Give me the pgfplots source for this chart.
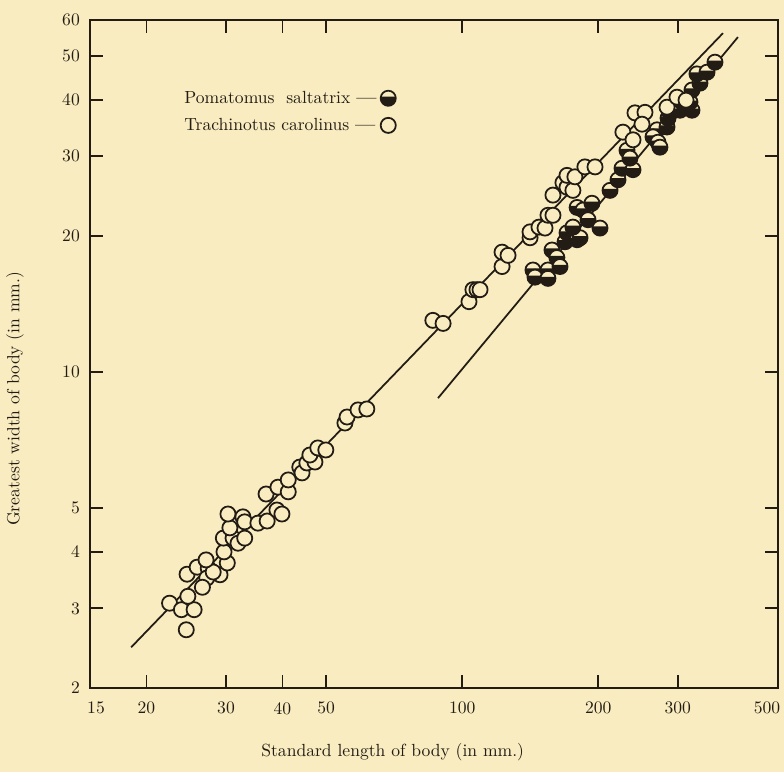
\documentclass[border=0pt]{standalone}
\usepackage{pgfplots}
\usepackage{pgfplotstable}
\pgfplotsset{compat=1.18}
\definecolor{paper}{HTML}{F8ECC0}
\definecolor{ink}{HTML}{221C14}

% circle, lower part filled black
\pgfdeclareplotmark{halfdisc}{%
  \pgfpathcircle{\pgfpointorigin}{\pgfplotmarksize}%
  \pgfusepathqfillstroke
  \begin{pgfscope}
    \pgfpathmoveto{\pgfpointpolar{168}{\pgfplotmarksize}}%
    \pgfpatharc{168}{372}{\pgfplotmarksize}%
    \pgfpathclose
    \pgfsetfillcolor{ink}%
    \pgfusepathqfill
  \end{pgfscope}
}

% Trachinotus carolinus
\pgfplotstableread{
len width
22.5 3.08
23.9 2.98
25.5 2.98
24.5 2.69
24.7 3.19
24.6 3.57
25.9 3.70
27.4 3.68
27.2 3.50
26.6 3.34
29.1 3.56
28.1 3.61
27.1 3.84
30.2 3.78
29.7 4.00
29.6 4.29
31.1 4.29
31.9 4.18
33.0 4.29
30.6 4.52
30.3 4.85
32.7 4.78
33.0 4.66
35.3 4.63
37.0 4.68
38.9 4.95
39.9 4.85
36.8 5.37
39.1 5.56
41.2 5.43
41.2 5.77
43.7 6.16
44.2 5.98
45.3 6.29
47.2 6.32
46.0 6.55
47.9 6.79
49.9 6.72
55.0 7.71
55.6 7.95
58.8 8.24
61.5 8.28
86.1 13.0
90.7 12.8
103.5 14.3
105.6 15.2
107.8 15.2
109.5 15.2
122.5 17.1
122.5 18.4
126.3 18.1
141.3 19.8
141.3 20.4
147.9 20.9
152.5 20.8
154.8 22.2
158.8 22.2
158.8 24.6
167.1 26.2
170.6 25.6
175.8 25.2
170.6 27.2
177.6 27.0
186.9 28.4
196.8 28.4
226.8 33.9
238.8 32.6
241.2 37.4
253.8 37.5
250.0 35.3
284.0 38.5
298.8 40.5
312.9 39.9
}\trachinotus

% Pomatomus saltatrix
\pgfplotstableread{
len width
143.4 16.8
154.8 16.8
144.9 16.2
154.8 16.1
158.0 18.6
162.0 17.9
164.6 17.1
168.9 19.4
170.6 20.3
179.6 19.6
182.3 19.8
175.8 20.9
179.6 23.1
185.1 22.8
189.9 21.7
193.7 23.6
201.8 20.8
212.4 25.2
221.2 26.6
225.8 28.2
238.8 28.0
231.6 30.9
235.1 29.7
269.9 34.3
264.4 33.1
271.2 32.2
273.9 31.4
284.0 34.8
285.5 36.4
288.3 37.4
303.5 37.9
322.5 37.9
306.5 39.5
319.2 39.5
322.5 42.0
335.9 43.5
330.8 45.6
348.2 46.0
362.6 48.4
}\pomatomus

\begin{document}
\begin{tikzpicture}
\fill[paper] (-1.8,-1.68) rectangle (13.88,13.76);
\begin{axis}[
    at={(0,0)}, anchor=south west,
    scale only axis,
    width=13.76cm, height=13.36cm,
    xmode=log, ymode=log,
    xmin=15, xmax=500, ymin=2, ymax=60,
    xtick={15,20,30,40,50,100,200,300,500},
    xticklabels={\rule{0.24cm}{0pt}15,20,30,40,50,100,200,300,\raisebox{1.5pt}{500}\rule{0.44cm}{0pt}},
    ytick={2,3,4,5,10,20,30,40,50,60},
    yticklabels={2,3,4,5,10,20,30,40,50,60},
    minor xtick={}, minor ytick={},
    tick pos=both, ticklabel pos=left,
    tick align=inside,
    major tick length=0.26cm,
    every tick/.style={ink, line width=1pt},
    axis line style={ink, line width=1.1pt},
    tick label style={text=ink},
    xticklabel style={yshift=-0.16cm},
    yticklabel style={xshift=-0.08cm},
    xlabel={Standard length of body (in mm.)},
    ylabel={Greatest width of body (in mm.)},
    xlabel style={at={(axis description cs:0.44,-0.096)}, anchor=center, text=ink},
    ylabel style={at={(axis description cs:-0.109,0.433)}, anchor=center, text=ink},
    legend style={at={(axis description cs:0.124,0.905)}, anchor=north west,
        draw=none, fill=none, text=ink, row sep=3pt},
    legend cell align=left,
    legend plot pos=right,
    mark size=4.3pt,
]
\addplot[ink, line width=1pt, forget plot] coordinates {(18.5,2.46) (377.7,56.1)};
\addplot[ink, line width=1pt, forget plot] coordinates {(88.4,8.75) (407.7,55.0)};

\addplot[only marks, mark=halfdisc, mark options={fill=paper, draw=ink, line width=1pt}]
    table[x=len, y=width] {\pomatomus};
\addplot[only marks, mark=*, mark options={fill=paper, draw=ink, line width=1pt}]
    table[x=len, y=width] {\trachinotus};

\legend{Pomatomus\ \ saltatrix \textbf{---}, Trachinotus carolinus \textbf{---}}
\end{axis}
\pgfresetboundingbox
\path (-1.8,-1.68) rectangle (13.88,13.76);
\end{tikzpicture}
\end{document}
